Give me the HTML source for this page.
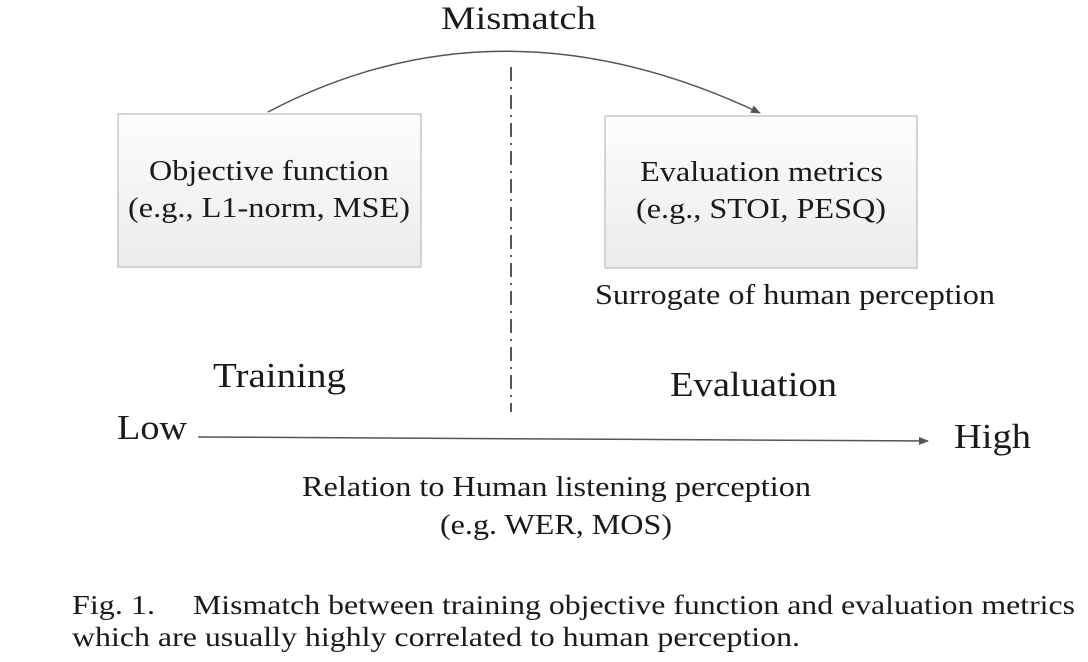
<!DOCTYPE html>
<html><head><style>
body{margin:0;width:1088px;height:662px;background:#fff;overflow:hidden}
svg{position:absolute;left:0;top:0}
text{font-family:"Liberation Serif",serif;fill:#1a1a1a}
</style></head><body>
<svg width="1088" height="662" viewBox="0 0 1088 662">
<defs>
<linearGradient id="g" x1="0" y1="0" x2="0" y2="1"><stop offset="0" stop-color="#fdfdfd"/><stop offset="1" stop-color="#ececec"/></linearGradient>
<marker id="a" markerWidth="10" markerHeight="8" refX="9" refY="4" orient="auto" markerUnits="userSpaceOnUse"><path d="M0,0 L10,4 L0,8 z" fill="#555"/></marker>
</defs>
<text x="441" y="29" font-size="33" textLength="155" lengthAdjust="spacingAndGlyphs">Mismatch</text>
<path d="M268,112 Q500,-10 760,113" fill="none" stroke="#555" stroke-width="1.5" marker-end="url(#a)"/>
<line x1="511" y1="67" x2="511" y2="412" stroke="#555" stroke-width="2" stroke-dasharray="14,6,2,6"/>
<rect x="118" y="114" width="303" height="153" fill="url(#g)" stroke="#bbb" stroke-width="1.2"/>
<rect x="605" y="116" width="312" height="152" fill="url(#g)" stroke="#bbb" stroke-width="1.2"/>
<text x="149" y="180" font-size="28" textLength="240" lengthAdjust="spacingAndGlyphs">Objective function</text>
<text x="128" y="217" font-size="28" textLength="282" lengthAdjust="spacingAndGlyphs">(e.g., L1-norm, MSE)</text>
<text x="640" y="181" font-size="28" textLength="243" lengthAdjust="spacingAndGlyphs">Evaluation metrics</text>
<text x="636" y="218" font-size="28" textLength="250" lengthAdjust="spacingAndGlyphs">(e.g., STOI, PESQ)</text>
<text x="595" y="304" font-size="28" textLength="400" lengthAdjust="spacingAndGlyphs">Surrogate of human perception</text>
<text x="213" y="387" font-size="35" textLength="133" lengthAdjust="spacingAndGlyphs">Training</text>
<text x="670" y="396" font-size="35" textLength="167" lengthAdjust="spacingAndGlyphs">Evaluation</text>
<text x="117" y="439" font-size="35" textLength="70" lengthAdjust="spacingAndGlyphs">Low</text>
<text x="954" y="448" font-size="35" textLength="77" lengthAdjust="spacingAndGlyphs">High</text>
<line x1="198" y1="437" x2="928" y2="441" stroke="#555" stroke-width="1.5" marker-end="url(#a)"/>
<text x="302" y="496" font-size="28" textLength="509" lengthAdjust="spacingAndGlyphs">Relation to Human listening perception</text>
<text x="440" y="534" font-size="28" textLength="232" lengthAdjust="spacingAndGlyphs">(e.g. WER, MOS)</text>
<text x="72" y="614" font-size="27" textLength="83" lengthAdjust="spacingAndGlyphs">Fig. 1.</text>
<text x="193" y="614" font-size="27" textLength="882" lengthAdjust="spacingAndGlyphs">Mismatch between training objective function and evaluation metrics</text>
<text x="72" y="646" font-size="27" textLength="728" lengthAdjust="spacingAndGlyphs">which are usually highly correlated to human perception.</text>
</svg>
</body></html>
